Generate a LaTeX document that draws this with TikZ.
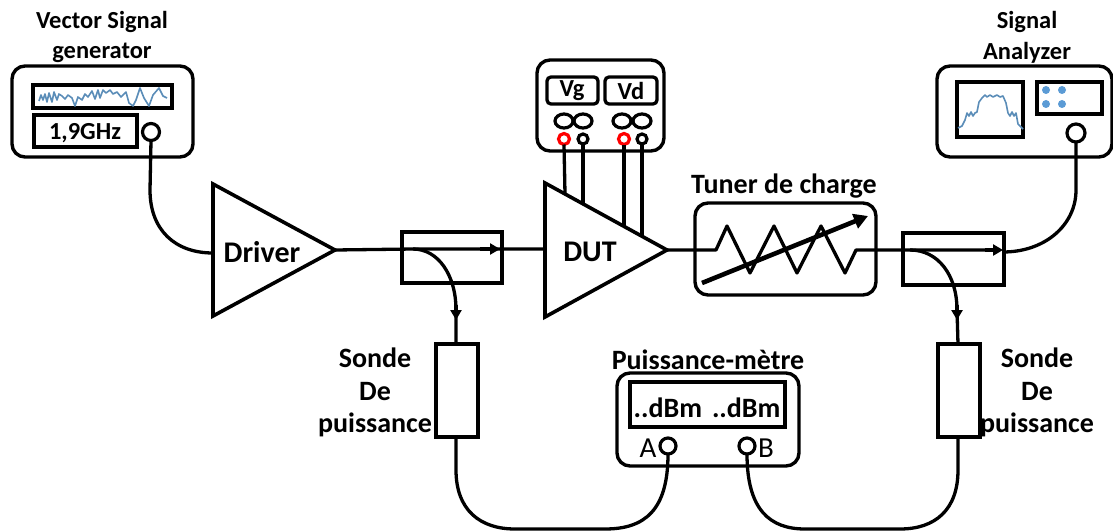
\documentclass[tikz,border=0pt]{standalone}
\usepackage{fontspec}
\setmainfont{Carlito}
\usetikzlibrary{arrows.meta,shapes.geometric}
\definecolor{sigblue}{HTML}{5B8DB8}
\definecolor{dotblue}{HTML}{5B9BD5}
\tikzset{
  every node/.style={outer sep=0pt},
  wire/.style={line width=3.3pt,line join=round},
  device/.style={draw,line width=3.4pt,rounded corners=13pt,inner sep=0pt,anchor=north west},
  panel/.style={draw,line width=3.6pt,inner sep=0pt,anchor=north west},
  softpanel/.style={draw,line width=3.3pt,rounded corners=4pt,inner sep=0pt,anchor=north west},
  amp/.style={draw,line width=3.6pt,line join=miter,fill=white},
  port/.style={circle,draw,fill=white,line width=3.2pt,inner sep=0pt},
  knob/.style={ellipse,draw,fill=white,line width=3.2pt,inner sep=0pt,minimum width=18pt,minimum height=14pt},
  lab/.style={font=\bfseries\fontsize{24.5}{28}\selectfont,inner sep=0pt,yshift=-2pt},
  biglab/.style={font=\bfseries\fontsize{30}{34}\selectfont,inner sep=0pt,yshift=-1pt},
  midlab/.style={font=\bfseries\fontsize{28}{32}\selectfont,inner sep=0pt,yshift=-1.5pt},
  plain/.style={font=\fontsize{29}{32}\selectfont,inner sep=0pt,yshift=-1pt},
  head/.style={-{Triangle[length=10pt,width=11pt]}},
  trace/.style={sigblue,line width=1.6pt,line join=round},
  dot/.style={circle,fill=dotblue,inner sep=0pt,minimum size=8pt}
}
\begin{document}
\begin{tikzpicture}[x=1pt,y=-1pt]
\useasboundingbox (0,0) rectangle (1113,532);
% generator
\node[device,minimum width=181pt,minimum height=91pt] (gen) at (12,66) {};
\node[panel,minimum width=139pt,minimum height=23pt] (genscreen) at (33,85) {};
\node[panel,minimum width=103pt,minimum height=32pt] (genfreq) at (34,115) {};
\node[lab] (genfreqt) at (85,131) {1,9GHz};
\draw[trace] (39,101) -- (41,95) -- (43,100) -- (45,94) -- (47,102) -- (49,93) -- (52,102) -- (54,92) -- (57,100) -- (59,94) -- (62,96) -- (65,99) -- (68,95) -- (72,98) -- (75,106) -- (78,97) -- (82,100) -- (85,94) -- (88,97) -- (92,91) -- (95,99) -- (98,90) -- (100,98) -- (103,90) -- (106,93) -- (110,90) -- (113,94) -- (117,92) -- (121,97) -- (126,92) -- (129,103) -- (133,106) -- (136,100) -- (140,88) -- (144,98) -- (149,106) -- (153,95) -- (159,88) -- (163,96) -- (167,98);
\node[lab] (gent1) at (102,20) {Vector Signal};
\node[lab] (gent2) at (102,51) {generator};
\node[port,minimum size=17pt] (genport) at (151,132) {};
% driver
\coordinate (d1) at (213,184); \coordinate (d2) at (213,316); \coordinate (d3) at (335,250);
\coordinate (din) at (213,253);
\draw[amp] (d1) -- (d3) -- (d2) -- cycle;
\node[biglab] (drivert) at (262,251) {Driver};
\draw[wire] (genport.south) -- (150,190) .. controls (150,230) and (175,253) .. (din);
% couplers
\node[panel,minimum width=100pt,minimum height=51pt] (cp1) at (402,232) {};
\node[panel,minimum width=101pt,minimum height=52pt] (cp2) at (903,233) {};
% DUT
\coordinate (u1) at (545,183); \coordinate (u2) at (545,317); \coordinate (u3) at (667,250);
\coordinate (uin) at (545,249);
\draw[amp] (u1) -- (u3) -- (u2) -- cycle;
\node[biglab] (dutt) at (590,251) {DUT};
% main line 1
\coordinate (c1a) at (413,249);
\coordinate (c1t) at (500,249);
\draw[wire] (d3) -- (c1a) -- (uin);
\draw[wire,head] (480,249) -- (c1t);
% probes
\node[panel,minimum width=42pt,minimum height=93pt] (pr1) at (436,344) {};
\node[panel,minimum width=42pt,minimum height=93pt] (pr2) at (938,344) {};
\coordinate (pr1t) at (456,344); \coordinate (pr1b) at (456,437);
\coordinate (pr2t) at (958,344); \coordinate (pr2b) at (958,437);
\draw[wire] (c1a) .. controls (438,249) and (456,275) .. (456,310) -- (pr1t);
\draw[wire,head] (456,305) -- (456,320);
% supply
\node[device,minimum width=127pt,minimum height=91pt] (sup) at (537,60) {};
\node[softpanel,minimum width=51pt,minimum height=27pt] (vg) at (547,77) {};
\node[softpanel,minimum width=52pt,minimum height=27pt] (vd) at (605,77) {};
\node[lab] (vgt) at (572,89) {Vg};
\node[lab] (vdt) at (631,89) {Vd};
\node[knob] (k1) at (564,121) {};
\node[knob] (k2) at (583,121) {};
\node[knob] (k3) at (622,121) {};
\node[knob] (k4) at (642,121) {};
\coordinate (ua) at (565,194); \coordinate (ub) at (583,204); \coordinate (uc) at (624,226); \coordinate (ud) at (642,236);
\node[port,draw=red,minimum size=11pt] (p1) at (564,139) {};
\node[port,minimum size=10pt] (p2) at (583,139) {};
\node[port,draw=red,minimum size=11pt] (p3) at (624,139) {};
\node[port,minimum size=10pt] (p4) at (642,139) {};
\draw[wire] (p1.south) -- (ua);
\draw[wire] (p2.south) -- (ub);
\draw[wire] (p3.south) -- (uc);
\draw[wire] (p4.south) -- (ud);
% tuner
\node[device,minimum width=181pt,minimum height=92pt] (tun) at (695,203) {};
\node[midlab] (tunt) at (784,185) {Tuner de charge};
\coordinate (c2a) at (910,250);
\coordinate (c2t) at (1003,250);
\draw[wire] (u3) -- (716,250) -- (727,226) -- (750,273) -- (774,226) -- (797,273) -- (821,226) -- (845,273) -- (856,250) -- (c2a) -- (990,250);
\draw[wire,head] (985,250) -- (c2t);
\draw[line width=4.6pt,-{Triangle[length=14pt,width=15pt]}] (702,283) -- (868,216);
% coupler 2 out
\draw[wire] (c2a) .. controls (938,250) and (957,275) .. (957,310) -- (pr2t);
\draw[wire,head] (957,305) -- (957,320);
% analyzer
\node[device,minimum width=175pt,minimum height=91pt] (ana) at (937,66) {};
\node[panel,minimum width=66pt,minimum height=55pt] (anascr) at (957,82) {};
\node[panel,minimum width=65pt,minimum height=32pt] (anakey) at (1037,82) {};
\draw[trace] (958,128) -- (962,126) -- (965,120) -- (967,113) -- (969,116) -- (971,112) -- (973,116) -- (975,113) -- (977,112) -- (979,102) -- (982,98) -- (985,95) -- (987,97) -- (990,95) -- (993,97) -- (997,95) -- (1000,97) -- (1003,96) -- (1006,103) -- (1008,113) -- (1010,116) -- (1012,112) -- (1014,116) -- (1016,113) -- (1018,124) -- (1021,127) -- (1023,129);
\node[dot] (dk1) at (1046,90) {};
\node[dot] (dk2) at (1062,90) {};
\node[dot] (dk3) at (1046,104) {};
\node[dot] (dk4) at (1062,104) {};
\node[port,minimum size=18pt] (anaport) at (1076,133) {};
\node[lab] (anat1) at (1027,20) {Signal};
\node[lab] (anat2) at (1027,51) {Analyzer};
\draw[wire] (1003,252) .. controls (1045,252) and (1076,225) .. (1076,190) -- (anaport.south);
% power meter
\node[device,minimum width=182pt,minimum height=93pt] (pm) at (617,373) {};
\node[panel,minimum width=155pt,minimum height=45pt] (pmscr) at (630,382) {};
\node[midlab] (pmv) at (707,406) {..dBm\hspace{10pt}..dBm};
\node[midlab] (pmt) at (708,358) {Puissance-mètre};
\node[port,minimum size=16pt] (pa) at (668,446) {};
\node[port,minimum size=16pt] (pb) at (747,446) {};
\node[plain] (at) at (648,447) {A};
\node[plain] (bt) at (766,447) {B};
\draw[wire] (pr1b) -- (456,470) .. controls (456,510) and (480,529) .. (515,529) -- (605,529) .. controls (645,529) and (668,510) .. (pa.south);
\draw[wire] (pb.south) .. controls (747,510) and (770,529) .. (805,529) -- (900,529) .. controls (935,529) and (958,510) .. (958,470) -- (pr2b);
% probe labels
\node[midlab] (s1) at (375,356) {Sonde};
\node[midlab] (s2) at (375,390) {De};
\node[midlab] (s3) at (375,423) {puissance};
\node[midlab] (r1) at (1037,356) {Sonde};
\node[midlab] (r2) at (1037,390) {De};
\node[midlab] (r3) at (1037,423) {puissance};
\end{tikzpicture}
\end{document}
